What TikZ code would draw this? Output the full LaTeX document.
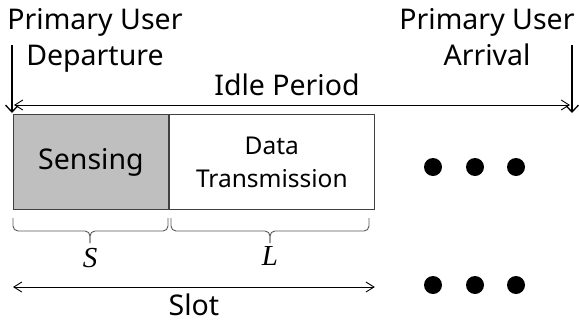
\documentclass[tikz,border=0pt]{standalone}
\usepackage{fontspec}
\setmainfont{Noto Sans}
\newfontfamily\timesit{Liberation Serif}
\usetikzlibrary{arrows.meta}

\begin{document}
\begin{tikzpicture}[x=1pt,y=-1pt]
			\tikzstyle{arrow}=[draw, line width=1.3pt, -{Straight Barb[length=7pt,width=13pt,line width=1.3pt]}]
			\tikzstyle{span}=[draw, line width=0.9pt, {Straight Barb[length=8pt,width=10pt]}-{Straight Barb[length=8pt,width=10pt]}]
			\tikzstyle{txt}=[font=\fontsize{28.5}{36}\selectfont, align=center, inner sep=0pt]
			\tikzstyle{slotbox}=[draw=black!75, line width=0.9pt, minimum height=95pt, inner sep=0pt, anchor=north west]
			\tikzstyle{brc}=[draw=black!65, line width=0.9pt, rounded corners=5pt]
			\tikzstyle{dot}=[circle, fill=black, minimum size=18pt, inner sep=0pt]
			\newcommand\Xdep{12}
			\newcommand\Xarr{572}
			\newcommand\Yidle{105}
			\newcommand\Ybox{114}
			\newcommand\Ybrace{218}
			\newcommand\Ybar{231}
			\newcommand\Ytip{243}
			\newcommand\Yslot{287}
			% brace: left end, middle, right end
			\newcommand\slotbrace[3]{
				\path [brc] (#1,\Ybrace) |- (#2,\Ybar) -- (#2,\Ytip);
				\path [brc] (#2,\Ytip) -- (#2,\Ybar) -| (#3,\Ybrace);
			}

			\useasboundingbox (0,0) rectangle (579,322);

			 % Primary user events
			\node [txt, anchor=north] at (95,8) (depart) {Primary User\\Departure};
			\node [txt, anchor=north] at (487,8) (arrive) {Primary User\\Arrival};
			\coordinate (depTop) at (\Xdep,45);
			\coordinate (depEnd) at (\Xdep,113);
			\coordinate (arrTop) at (\Xarr,45);
			\coordinate (arrEnd) at (\Xarr,113);
			\path [arrow] (depTop) -- (depEnd);
			\path [arrow] (arrTop) -- (arrEnd);

			 % Idle period
			\coordinate (idleL) at (\Xdep+2,\Yidle);
			\coordinate (idleR) at (\Xarr-2,\Yidle);
			\path [span] (idleL) -- (idleR);
			\node [txt, anchor=base] at (287,95) (idle) {Idle Period};

			 % Slot
			\node [slotbox, fill=black!25, minimum width=155pt] at (13,\Ybox) (sense) {\fontsize{28.5}{34}\selectfont Sensing};
			\node [slotbox, minimum width=205pt, align=center, font=\fontsize{24.5}{33}\selectfont] at (sense.north east) (data) {Data\\Transmission};

			\slotbrace{13}{90}{168}
			\slotbrace{171}{270}{369}
			\node [anchor=base, inner sep=0pt, font=\fontsize{29}{34}\timesit\itshape] at (90,267) (S) {S};
			\node [anchor=base, inner sep=0pt, font=\fontsize{29}{34}\timesit\itshape] at (270,265) (L) {L};

			\coordinate (slotL) at (sense.south west |- 0,\Yslot);
			\coordinate (slotR) at (data.south east |- 0,\Yslot);
			\path [span] (slotL) -- (slotR);
			\node [txt, anchor=base] at (194,315) (slot) {Slot};

			 % Further slots
			\foreach \x [count=\i] in {433,475,516} {
				\node [dot] at (\x,167) (upper\i) {};
				\node [dot] at (\x,285) (lower\i) {};
			}
\end{tikzpicture}
\end{document}
